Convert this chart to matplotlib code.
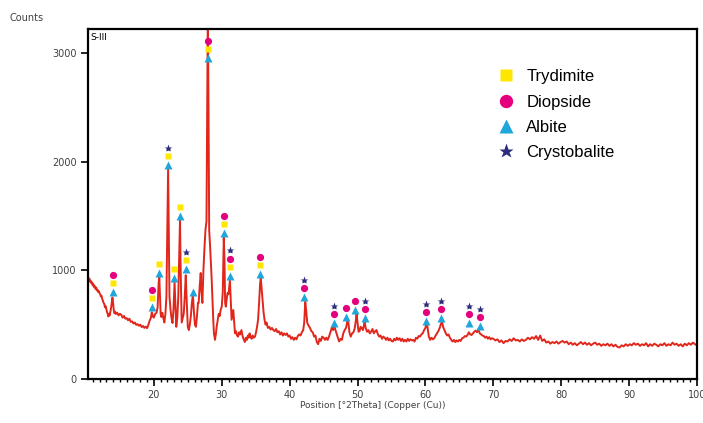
import matplotlib
matplotlib.use("Agg")
from matplotlib import pyplot as plt
from matplotlib.lines import Line2D

# XRD scan, sample S-III (2theta in degrees, intensity in counts)
two_theta = [
    10.3, 10.4, 10.5, 10.6, 10.7, 10.8, 10.9, 11.0, 11.1, 11.2, 11.3, 11.4, 11.5, 11.6, 11.7, 11.8,
    11.9, 12.0, 12.1, 12.2, 12.3, 12.4, 12.5, 12.6, 12.7, 12.8, 12.9, 13.0, 13.1, 13.2, 13.3, 13.4,
    13.5, 13.6, 13.7, 13.8, 13.9, 14.0, 14.1, 14.2, 14.3, 14.4, 14.6, 14.8, 15.0, 15.2, 15.4, 15.6,
    15.8, 16.0, 16.2, 16.4, 16.6, 16.8, 17.0, 17.2, 17.4, 17.6, 17.8, 18.0, 18.2, 18.4, 18.6, 18.8,
    19.0, 19.2, 19.4, 19.55, 19.7, 19.85, 20.0, 20.2, 20.4, 20.55, 20.7, 20.8, 20.9, 21.0, 21.1, 21.25,
    21.4, 21.55, 21.7, 21.85, 22.0, 22.1, 22.2, 22.3, 22.45, 22.6, 22.75, 22.9, 23.05, 23.15, 23.3, 23.45,
    23.6, 23.75, 23.85, 23.95, 24.1, 24.25, 24.4, 24.55, 24.7, 24.85, 25.0, 25.15, 25.3, 25.45, 25.6, 25.75,
    25.9, 26.05, 26.2, 26.35, 26.5, 26.6, 26.75, 26.9, 27.0, 27.15, 27.3, 27.45, 27.6, 27.75, 27.85, 27.95,
    28.05, 28.15, 28.3, 28.5, 28.65, 28.75, 28.85, 29.0, 29.15, 29.25, 29.4, 29.55, 29.7, 29.85, 30.0, 30.15,
    30.3, 30.4, 30.5, 30.6, 30.7, 30.85, 31.0, 31.2, 31.35, 31.45, 31.6, 31.7, 31.85, 31.95, 32.1, 32.25,
    32.4, 32.55, 32.7, 32.9, 33.05, 33.2, 33.4, 33.55, 33.7, 33.85, 34.0, 34.1, 34.25, 34.4, 34.55, 34.7,
    34.9, 35.05, 35.2, 35.35, 35.5, 35.65, 35.75, 35.85, 36.0, 36.15, 36.3, 36.45, 36.6, 36.8, 37.0, 37.2,
    37.4, 37.6, 37.8, 38.0, 38.2, 38.4, 38.6, 38.8, 39.0, 39.2, 39.4, 39.6, 39.8, 40.0, 40.2, 40.4,
    40.6, 40.8, 41.0, 41.2, 41.4, 41.6, 41.8, 42.0, 42.15, 42.3, 42.45, 42.6, 42.8, 43.0, 43.2, 43.4,
    43.6, 43.8, 44.0, 44.2, 44.4, 44.6, 44.8, 45.0, 45.2, 45.4, 45.6, 45.8, 46.0, 46.2, 46.4, 46.55,
    46.7, 46.9, 47.1, 47.3, 47.5, 47.7, 47.9, 48.1, 48.3, 48.5, 48.65, 48.8, 49.0, 49.2, 49.4, 49.6,
    49.75, 49.85, 50.0, 50.15, 50.3, 50.45, 50.6, 50.8, 50.95, 51.05, 51.2, 51.4, 51.6, 51.8, 52.0, 52.2,
    52.4, 52.6, 52.8, 53.0, 53.2, 53.4, 53.6, 53.8, 54.0, 54.2, 54.4, 54.6, 54.8, 55.0, 55.2, 55.4,
    55.6, 55.8, 56.0, 56.2, 56.4, 56.6, 56.8, 57.0, 57.2, 57.4, 57.6, 57.8, 58.0, 58.2, 58.4, 58.6,
    58.8, 59.0, 59.2, 59.4, 59.6, 59.8, 60.0, 60.15, 60.3, 60.5, 60.7, 60.9, 61.1, 61.3, 61.5, 61.7,
    61.9, 62.1, 62.3, 62.45, 62.6, 62.8, 63.0, 63.2, 63.4, 63.6, 63.8, 64.0, 64.2, 64.4, 64.6, 64.8,
    65.0, 65.2, 65.4, 65.6, 65.8, 66.0, 66.2, 66.4, 66.6, 66.8, 67.0, 67.2, 67.4, 67.6, 67.8, 68.0,
    68.2, 68.4, 68.6, 68.8, 69.0, 69.2, 69.4, 69.6, 69.8, 70.0, 70.3, 70.6, 70.9, 71.2, 71.5, 71.8,
    72.1, 72.4, 72.7, 73.0, 73.3, 73.6, 73.9, 74.2, 74.5, 74.8, 75.1, 75.4, 75.7, 76.0, 76.3, 76.6,
    76.9, 77.2, 77.5, 77.8, 78.1, 78.4, 78.7, 79.0, 79.3, 79.6, 79.9, 80.2, 80.5, 80.8, 81.1, 81.4,
    81.7, 82.0, 82.3, 82.6, 82.9, 83.2, 83.5, 83.8, 84.1, 84.4, 84.7, 85.0, 85.3, 85.6, 85.9, 86.2,
    86.5, 86.8, 87.1, 87.4, 87.7, 88.0, 88.3, 88.6, 88.9, 89.2, 89.5, 89.8, 90.1, 90.4, 90.7, 91.0,
    91.3, 91.6, 91.9, 92.2, 92.5, 92.8, 93.1, 93.4, 93.7, 94.0, 94.3, 94.6, 94.9, 95.2, 95.5, 95.8,
    96.1, 96.4, 96.7, 97.0, 97.3, 97.6, 97.9, 98.2, 98.5, 98.8, 99.1, 99.4, 99.7, 100.0,
]
counts = [
    935, 915, 925, 895, 905, 880, 890, 860, 872, 845, 855, 830, 842, 815, 822, 800,
    808, 790, 780, 760, 765, 735, 720, 700, 690, 660, 670, 640, 615, 600, 575, 600,
    585, 620, 655, 700, 750, 700, 630, 605, 620, 598, 610, 585, 600, 590, 565, 580,
    555, 560, 540, 555, 525, 530, 510, 520, 498, 505, 490, 500, 478, 488, 470, 482,
    468, 500, 540, 560, 615, 575, 565, 600, 610, 660, 880, 940, 760, 600, 570, 610,
    560, 520, 600, 760, 1500, 1940, 1300, 760, 640, 560, 515, 650, 890, 720, 480, 560,
    760, 1200, 1460, 1000, 520, 560, 600, 760, 955, 700, 480, 450, 500, 580, 700, 775,
    620, 500, 480, 580, 700, 700, 850, 975, 820, 700, 1000, 1200, 1370, 1450, 2500, 3400,
    2500, 1370, 1200, 940, 700, 545, 420, 360, 420, 480, 540, 600, 580, 640, 665, 800,
    1300, 1100, 700, 665, 720, 790, 780, 910, 700, 545, 600, 635, 500, 420, 440, 400,
    390, 430, 410, 450, 400, 370, 340, 380, 360, 400, 380, 420, 390, 370, 400, 380,
    390, 430, 480, 545, 700, 880, 930, 850, 730, 620, 545, 500, 520, 470, 480, 455,
    470, 450, 440, 460, 430, 440, 410, 430, 400, 420, 405, 420, 390, 400, 370, 385,
    360, 380, 365, 395, 410, 400, 430, 450, 520, 710, 620, 515, 490, 470, 440, 430,
    390, 400, 340, 320, 370, 350, 390, 380, 360, 380, 360, 390, 430, 470, 450, 515,
    460, 420, 380, 345, 370, 360, 420, 450, 470, 530, 520, 430, 390, 420, 430, 470,
    540, 605, 520, 435, 440, 480, 470, 450, 500, 525, 470, 435, 450, 420, 435, 460,
    420, 440, 450, 410, 390, 400, 370, 390, 380, 360, 380, 355, 370, 350, 345, 370,
    355, 380, 360, 375, 350, 370, 345, 360, 345, 370, 350, 365, 355, 360, 345, 380,
    370, 395, 390, 410, 420, 450, 470, 515, 480, 390, 360, 380, 365, 375, 400, 420,
    440, 470, 510, 525, 480, 450, 420, 400, 410, 380, 360, 345, 360, 340, 355, 345,
    360, 350, 375, 380, 395, 390, 405, 430, 410, 405, 420, 435, 445, 430, 460, 420,
    410, 400, 395, 380, 390, 370, 385, 365, 375, 370, 355, 365, 340, 355, 330, 350,
    345, 365, 350, 375, 355, 360, 345, 365, 350, 360, 380, 365, 385, 370, 395, 360,
    400, 350, 365, 335, 345, 325, 340, 330, 345, 325, 340, 350, 335, 345, 320, 335,
    315, 330, 310, 325, 340, 320, 335, 315, 330, 310, 325, 335, 315, 325, 305, 320,
    310, 325, 305, 320, 300, 315, 295, 290, 310, 300, 320, 305, 320, 310, 330, 315,
    325, 305, 320, 310, 330, 300, 320, 305, 325, 315, 300, 320, 310, 330, 305, 320,
    310, 335, 315, 325, 305, 320, 300, 325, 310, 330, 315, 335, 320, 310,
]

# phase markers: peak position, height of lowest marker, phases bottom-up
# A = Albite, T = Trydimite, D = Diopside, C = Crystobalite
peak_pos = [13.96, 19.7, 20.74, 22.06, 22.95, 23.83, 24.71, 25.74, 27.95, 30.3, 31.2,
            35.6, 42.1, 46.5, 48.3, 49.7, 51.1, 60.1, 62.3, 66.4, 68.0]
peak_base = [800, 662, 975, 1969, 929, 1500, 1012, 800, 2953, 1343, 948,
             966, 754, 515, 570, 635, 561, 534, 561, 515, 488]
peak_phases = ["ATD", "ATD", "AT", "ATC", "AT", "AT", "ATC", "A", "ATD", "ATD", "ATDC",
               "ATD", "ADC", "ADC", "AD", "AD", "ADC", "ADC", "ADC", "ADC", "ADC"]

phase_names = {"T": "Trydimite", "D": "Diopside", "A": "Albite", "C": "Crystobalite"}
phase_style = {
    "T": dict(marker="s", color="#FFE600", ms=4.6),
    "D": dict(marker="o", color="#E5007D", ms=5.2),
    "A": dict(marker="^", color="#21A6DB", ms=5.6),
    "C": dict(marker="*", color="#2B2C7C", ms=6),
}
step = 80

fig = plt.figure(figsize=(7.03, 4.23), dpi=100)
ax = fig.add_axes([88 / 703, 1 - 379 / 423, 609 / 703, 350 / 423])

ax.plot(two_theta, counts, color="#E1261C", lw=1.4, zorder=2)

for code in "ATDC":
    xs, ys = [], []
    for x, b, ph in zip(peak_pos, peak_base, peak_phases):
        if code in ph:
            xs.append(x)
            ys.append(b + ph.index(code) * step)
    st = phase_style[code]
    ax.plot(xs, ys, ls="none", marker=st["marker"], color=st["color"], ms=st["ms"],
            mec="none", zorder=3)

ax.set_xlim(10.3, 100)
ax.set_ylim(0, 3220)
ax.set_xticks([20, 30, 40, 50, 60, 70, 80, 90, 100])
ax.set_xticks(range(11, 101), minor=True)
ax.set_yticks([0, 1000, 2000, 3000])
ax.tick_params(axis="both", which="major", length=5, width=1.2, labelsize=7,
               labelcolor="#404040", pad=3)
ax.tick_params(axis="x", which="minor", length=2.5, width=1)
for s in ax.spines.values():
    s.set_linewidth(1.6)

fig.text(10 / 703, 1 - 18 / 423, "Counts", fontsize=7, color="#404040", va="center")
ax.text(0.004, 0.99, "S-III", transform=ax.transAxes, fontsize=6.5, va="top", ha="left")
fig.text(300 / 703, 1 - 405 / 423, "Position [\u00b02Theta] (Copper (Cu))", fontsize=6.5,
         color="#404040", va="center", ha="left")

handles = [Line2D([], [], ls="none", marker=phase_style[c]["marker"], color=phase_style[c]["color"],
                  mec="none", ms=phase_style[c]["ms"] * 1.85) for c in "TDAC"]
ax.legend(handles, [phase_names[c] for c in "TDAC"], loc="upper left",
          bbox_to_anchor=(0.673, 0.885), frameon=False, borderpad=0, borderaxespad=0,
          handlelength=1.0, handletextpad=0.7, labelspacing=0.62,
          prop={"family": "Liberation Sans", "size": 12})

fig.savefig("out.png", dpi=100)
